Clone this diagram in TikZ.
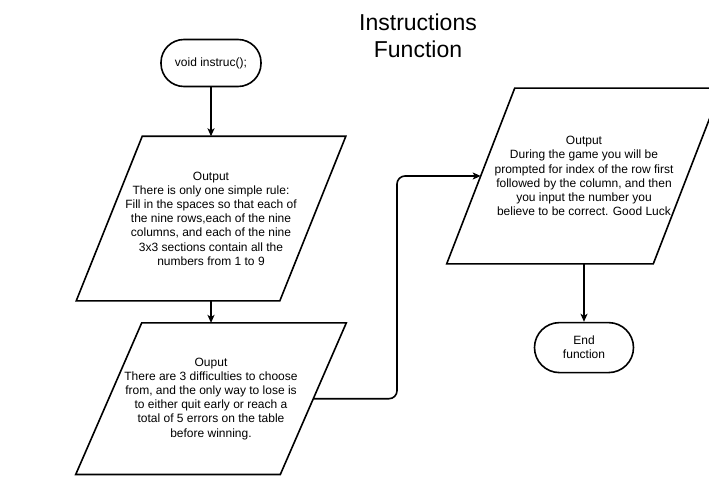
\documentclass[tikz,border=0pt]{standalone}
\usepackage{fontspec}
\setmainfont{Liberation Sans}
\usetikzlibrary{arrows.meta, positioning}
\newcommand{\ioframe}[2]{\draw ([xshift=#2]#1.north west) -- ([xshift=#2]#1.north east) -- ([xshift=-#2]#1.south east) -- ([xshift=-#2]#1.south west) -- cycle;}

\begin{document}
\begin{tikzpicture}[x=1pt, y=-1pt, font=\fontsize{12}{14.2}\selectfont, >={Stealth[length=8pt, width=7pt, inset=2pt]}, line width=1.6pt,
  term/.style={draw, rounded corners=23pt, align=center, minimum width=100pt, minimum height=47pt, inner sep=2pt},
  io/.style={align=center, inner sep=0pt, minimum width=203pt}]
\path[use as bounding box, clip] (0,0) rectangle (709,492);
\node[font=\fontsize{23}{27}\selectfont, align=center] (title) at (418,36) {Instructions\\Function};
\node[term] (start) at (211,63) {void instruc();};
\node[io, minimum width=202pt, minimum height=163pt, below=49pt of start] (out1) {Output\\There is only one simple rule:\\Fill in the spaces so that each of\\the nine rows,each of the nine\\columns, and each of the nine\\3x3 sections contain all the\\numbers from 1 to 9};
\node[io, minimum height=150pt, below=22pt of out1] (out2) {Ouput\\There are 3 difficulties to choose\\from, and the only way to lose is\\to either quit early or reach a\\total of 5 errors on the table\\before winning.};
\node[io, minimum width=205pt, minimum height=174pt] (out3) at (584,176) {Output\\During the game you will be\\prompted for index of the row first\\followed by the column, and then\\you input the number you\\believe to be correct. Good Luck};
\node[term, minimum width=99pt, minimum height=50pt, rounded corners=25pt, below=58pt of out3] (stop) {End\\function};
\ioframe{out1}{33pt}
\ioframe{out2}{33pt}
\ioframe{out3}{34pt}
\coordinate (bend) at (397,0);
\draw[->] (start) -- (out1);
\draw[->] (out1) -- (out2);
\draw[->, rounded corners=8pt] (out2.east) -- (out2.east -| bend) -- (bend |- out3.west) -- (out3.west);
\draw[->] (out3) -- (stop);
\end{tikzpicture}
\end{document}
